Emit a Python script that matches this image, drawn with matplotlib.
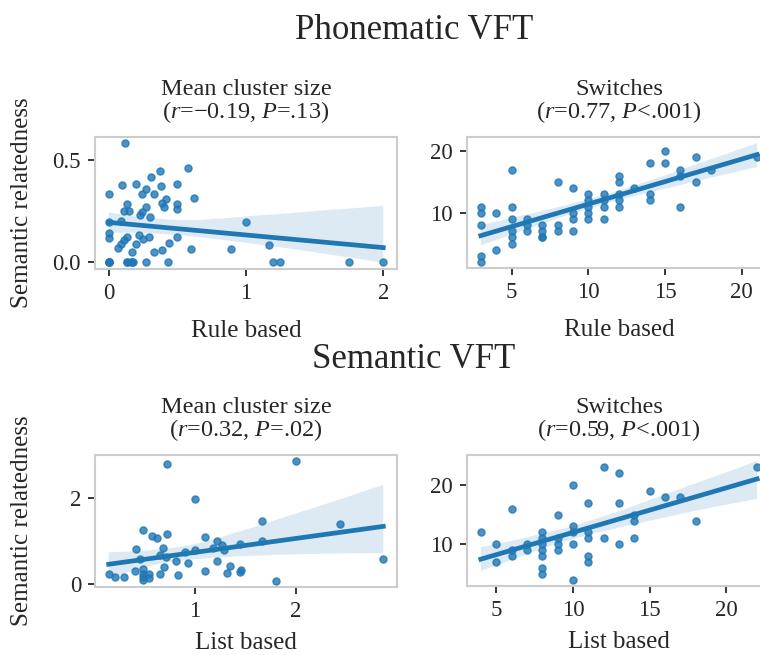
import matplotlib
matplotlib.use("Agg")
import matplotlib.pyplot as plt
import seaborn as sns

# ---------------- data ----------------
phon_cluster_x = [0.12, 0.00, 0.10, 0.20, 0.31, 0.37, 0.38, 0.50, 0.58, 0.62,
                  0.24, 0.27, 0.33, 0.42, 0.39, 0.40, 0.50, 0.50, 0.13, 0.11,
                  0.15, 0.24, 0.27, 0.23, 0.30, 0.00, 0.09, 1.00, 0.00, 0.00,
                  0.13, 0.11, 0.09, 0.07, 0.22, 0.25, 0.29, 0.20, 0.17, 0.44,
                  0.50, 0.33, 0.39, 0.60, 0.89, 1.17, 0.00, 0.00, 0.13, 0.16,
                  0.18, 0.27, 0.43, 1.20, 1.25, 1.75, 2.00, 0.00, 0.00, 0.13,
                  0.17]
phon_cluster_y = [0.584, 0.333, 0.377, 0.386, 0.416, 0.445, 0.373, 0.385, 0.461, 0.313,
                  0.336, 0.357, 0.333, 0.308, 0.289, 0.273, 0.284, 0.263, 0.284, 0.250,
                  0.250, 0.247, 0.273, 0.230, 0.220, 0.198, 0.203, 0.200, 0.143, 0.122,
                  0.127, 0.109, 0.089, 0.073, 0.133, 0.114, 0.127, 0.089, 0.049, 0.094,
                  0.125, 0.052, 0.060, 0.068, 0.065, 0.084, 0.0, 0.0, 0.0, 0.0,
                  0.0, 0.0, 0.0, 0.0, 0.0, 0.0, 0.0, 0.0, 0.0, 0.0,
                  0.0]

phon_switch_x = [3, 3, 3, 3, 3, 4, 4, 5, 5, 5, 5, 5, 5, 6, 6, 6, 7, 7, 7, 7,
                 8, 8, 8, 9, 9, 9, 9, 10, 10, 10, 10, 10, 11, 11, 11, 11,
                 12, 12, 12, 12, 12, 13, 14, 14, 14, 15, 15, 16, 16, 16,
                 17, 17, 18, 21]
phon_switch_y = [11, 10, 8, 3, 2, 10, 4, 17, 11, 9, 7, 6, 5, 9, 8, 7, 8, 7, 6, 6,
                 15, 8, 7, 14, 10, 9, 7, 13, 12, 11, 10, 9, 13, 12, 11, 9,
                 16, 15, 13, 12, 11, 14, 18, 13, 12, 20, 18, 17, 16, 11,
                 19, 15, 17, 19]

sem_cluster_x = [0.73, 2.00, 1.00, 1.66, 2.43, 2.86, 0.49, 0.58, 0.63, 0.73,
                 0.42, 0.69, 1.10, 1.22, 1.27, 1.29, 1.18, 1.45, 1.66, 1.00,
                 0.90, 0.46, 0.66, 0.72, 0.81, 0.93, 0.70, 0.41, 0.49, 0.15,
                 0.21, 0.30, 0.49, 0.49, 0.55, 0.55, 0.49, 0.66, 0.83, 1.10,
                 1.22, 1.35, 1.32, 1.46, 1.45, 1.80]
sem_cluster_y = [2.80, 2.86, 1.98, 1.46, 1.39, 0.58, 1.24, 1.11, 1.06, 1.15,
                 0.80, 0.82, 1.09, 0.99, 0.91, 0.78, 0.84, 0.92, 1.00, 0.79,
                 0.74, 0.58, 0.66, 0.62, 0.52, 0.48, 0.39, 0.30, 0.35, 0.23,
                 0.16, 0.15, 0.23, 0.16, 0.22, 0.14, 0.08, 0.22, 0.20, 0.30,
                 0.52, 0.42, 0.25, 0.31, 0.26, 0.06]

sem_switch_x = [4, 5, 5, 6, 6, 6, 7, 7, 8, 8, 8, 8, 8, 8, 8, 9, 9, 9, 9,
                10, 10, 10, 10, 10, 11, 11, 11, 11, 11, 12, 12, 13, 13, 13,
                14, 14, 14, 15, 16, 17, 18, 22]
sem_switch_y = [12, 10, 7, 16, 9, 8, 10, 9, 12, 11, 10, 9, 8, 6, 5, 15, 11, 10, 9,
                20, 13, 12, 10, 4, 17, 12, 11, 8, 7, 23, 11, 22, 17, 10,
                15, 14, 11, 19, 18, 18, 14, 23]

section_titles = ["Phonematic VFT", "Semantic VFT"]
panel_titles = ["Mean cluster size\n($r$=\u22120.19, $P$=.13)",
                "Switches\n($r$=0.77, $P$<.001)",
                "Mean cluster size\n($r$=0.32, $P$=.02)",
                "Switches\n($r$=0.59, $P$<.001)"]
x_labels = ["Rule based", "Rule based", "List based", "List based"]
y_label = "Semantic relatedness"
x_ticks = [[0, 1, 2], [5, 10, 15, 20], [1, 2], [5, 10, 15, 20]]
y_ticks = [[0.0, 0.5], [10, 20], [0, 2], [10, 20]]
y_ticklabels = [["0.0", "0.5"], ["10", "20"], ["0", "2"], ["10", "20"]]

# ---------------- style ----------------
plt.rcParams['font.family'] = ['Liberation Serif', 'DejaVu Serif']
plt.rcParams['mathtext.fontset'] = 'custom'
plt.rcParams['mathtext.rm'] = 'Liberation Serif'
plt.rcParams['mathtext.it'] = 'Liberation Serif:italic'
TXT = '#262626'
BLUE = '#1f77b4'

W, H = 760, 655
fig = plt.figure(figsize=(W / 100, H / 100), dpi=100)
fig.patch.set_facecolor('white')


def rect(l, t, r, b):
    return [l / W, 1 - b / H, (r - l) / W, (b - t) / H]


boxes = [(95, 137, 397, 269), (467, 137, 771, 268),
         (95, 455, 397, 587), (467, 455, 771, 586)]
label_offsets = [68, 68, 62, 62]
datasets = [(phon_cluster_x, phon_cluster_y), (phon_switch_x, phon_switch_y),
            (sem_cluster_x, sem_cluster_y), (sem_switch_x, sem_switch_y)]

for i, (box, (xs, ys)) in enumerate(zip(boxes, datasets)):
    ax = fig.add_axes(rect(*box))
    sns.regplot(x=xs, y=ys, ax=ax, color=BLUE, seed=0,
                scatter_kws=dict(s=26, alpha=0.8),
                line_kws=dict(lw=3.4))
    ax.set_xticks(x_ticks[i])
    ax.set_yticks(y_ticks[i])
    ax.set_yticklabels(y_ticklabels[i])
    ax.set_xlabel('')
    ax.set_ylabel('')
    for sp in ax.spines.values():
        sp.set_color('#cccccc')
        sp.set_linewidth(1.5)
    ax.tick_params(axis='both', which='major', length=5, width=1.3,
                   color=TXT, labelcolor=TXT, labelsize=16.5, pad=5)
    l, t, r, b = box
    cx = (l + r) / 2
    fig.text(cx / W, 1 - (t - 19) / H, panel_titles[i], ha='center',
             va='baseline', fontsize=17.5, color=TXT, linespacing=0.95)
    fig.text(cx / W, 1 - (b + label_offsets[i]) / H, x_labels[i], ha='center',
             va='baseline', fontsize=18, color=TXT)
    if i % 2 == 0:
        fig.text(22 / W, 1 - ((t + b) / 2) / H, y_label, ha='center',
                 va='center', rotation=90, fontsize=18, color=TXT)

fig.text(414 / W, 1 - 39 / H, section_titles[0], ha='center', va='baseline',
         fontsize=25, color=TXT)
fig.text(414 / W, 1 - 368 / H, section_titles[1], ha='center', va='baseline',
         fontsize=25, color=TXT)

fig.savefig('out.png', dpi=100, facecolor='white')
